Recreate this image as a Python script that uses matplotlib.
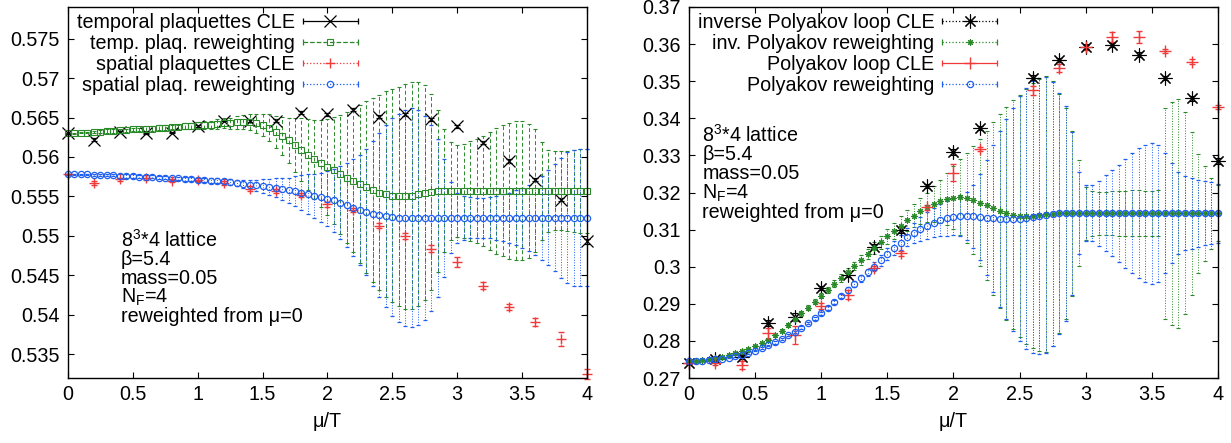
import numpy as np
import matplotlib
matplotlib.use('Agg')
import matplotlib.pyplot as plt
from matplotlib.lines import Line2D
from matplotlib.legend_handler import HandlerBase
from matplotlib.ticker import MultipleLocator, FormatStrFormatter

plt.rcParams['font.family'] = ['Liberation Sans', 'DejaVu Sans']
plt.rcParams['mathtext.fontset'] = 'custom'
plt.rcParams['mathtext.rm'] = 'Liberation Sans'
plt.rcParams['mathtext.it'] = 'Liberation Sans:italic'
plt.rcParams['font.size'] = 14.2

GREEN = '#2a8a2a'
BLUE = '#1f5ff0'
RED = '#f03a3a'

# ---- CLE points (left: plaquettes) ----
mu_cle_l = [0.0, 0.2, 0.4, 0.6, 0.8, 1.0, 1.2, 1.4, 1.6, 1.8, 2.0,
            2.2, 2.4, 2.6, 2.8, 3.0, 3.2, 3.4, 3.6, 3.8, 4.0]
temp_cle = [0.5630, 0.5622, 0.5632, 0.5630, 0.5631, 0.5639, 0.5646, 0.5646, 0.5646, 0.5656, 0.5654,
            0.5660, 0.5651, 0.5654, 0.5648, 0.5639, 0.5618, 0.5595, 0.5571, 0.5546, 0.5493]
temp_cle_err = [0.0001, 0.0002, 0.0001, 0.0001, 0.0001, 0.0001, 0.0001, 0.0002, 0.0002, 0.0002, 0.0002,
                0.0002, 0.0002, 0.0002, 0.0002, 0.0002, 0.0002, 0.0002, 0.0002, 0.0002, 0.0003]
spat_cle = [0.5578, 0.5567, 0.5572, 0.5574, 0.5570, 0.5571, 0.5567, 0.5560, 0.5557, 0.5552, 0.5540,
            0.5533, 0.5513, 0.5500, 0.5484, 0.5467, 0.5437, 0.5410, 0.5391, 0.5369, 0.5325]
spat_cle_err = [0.0001, 0.0003, 0.0002, 0.0003, 0.0002, 0.0002, 0.0002, 0.0003, 0.0003, 0.0003, 0.0003,
                0.0003, 0.0003, 0.0004, 0.0004, 0.0006, 0.0004, 0.0004, 0.0005, 0.0009, 0.0006]

# ---- CLE points (right: Polyakov loops), no run at 2.4 ----
mu_cle_r = [0.0, 0.2, 0.4, 0.6, 0.8, 1.0, 1.2, 1.4, 1.6, 1.8, 2.0,
            2.2, 2.6, 2.8, 3.0, 3.2, 3.4, 3.6, 3.8, 4.0]
invpol_cle = [0.2740, 0.2750, 0.2757, 0.2849, 0.2865, 0.2942, 0.2978, 0.3054, 0.3098, 0.3218, 0.3310,
              0.3374, 0.3509, 0.3557, 0.3593, 0.3598, 0.3571, 0.3508, 0.3454, 0.3286]
invpol_cle_err = [0.0003, 0.0004, 0.0005, 0.0008, 0.0010, 0.0006, 0.0006, 0.0006, 0.0006, 0.0006, 0.0008,
                  0.0006, 0.0007, 0.0006, 0.0006, 0.0006, 0.0007, 0.0006, 0.0007, 0.0008]
pol_cle = [0.2741, 0.2740, 0.2735, 0.2820, 0.2816, 0.2894, 0.2924, 0.2996, 0.3036, 0.3160, 0.3253,
           0.3317, 0.3476, 0.3535, 0.3591, 0.3620, 0.3619, 0.3582, 0.3553, 0.3430]
pol_cle_err = [0.0003, 0.0006, 0.0012, 0.0015, 0.0025, 0.0008, 0.0012, 0.0006, 0.0006, 0.0006, 0.0023,
               0.0005, 0.0012, 0.0011, 0.0006, 0.0013, 0.0015, 0.0006, 0.0006, 0.0005]

# ---- reweighting from mu=0, grid of 81 values in mu/T ----
mu_rw = np.linspace(0.0, 4.0, 81)

temp_rw = [0.5630, 0.5630, 0.5631, 0.5631, 0.5632, 0.5632, 0.5633, 0.5633, 0.5634, 0.5634,
           0.5635, 0.5635, 0.5636, 0.5636, 0.5637, 0.5637, 0.5638, 0.5638, 0.5639, 0.5639,
           0.5640, 0.5641, 0.5641, 0.5642, 0.5643, 0.5643, 0.5644, 0.5644, 0.5644, 0.5643,
           0.5641, 0.5637, 0.5632, 0.5627, 0.5621, 0.5615, 0.5609, 0.5603, 0.5597, 0.5592,
           0.5587, 0.5583, 0.5578, 0.5574, 0.5570, 0.5566, 0.5562, 0.5558, 0.5555, 0.5553,
           0.5551, 0.5550, 0.5550, 0.5551, 0.5553, 0.5555, 0.5556, 0.5557, 0.5557, 0.5557,
           0.5557, 0.5557, 0.5557, 0.5557, 0.5557, 0.5557, 0.5557, 0.5557, 0.5557, 0.5557,
           0.5557, 0.5557, 0.5557, 0.5557, 0.5557, 0.5557, 0.5557, 0.5557, 0.5557, 0.5557,
           0.5557]
temp_rw_err = [0.0001, 0.0001, 0.0001, 0.0001, 0.0001, 0.0002, 0.0002, 0.0002, 0.0002, 0.0002,
               0.0002, 0.0002, 0.0003, 0.0003, 0.0003, 0.0003, 0.0003, 0.0003, 0.0004, 0.0004,
               0.0004, 0.0005, 0.0005, 0.0006, 0.0006, 0.0007, 0.0008, 0.0009, 0.0010, 0.0012,
               0.0014, 0.0017, 0.0020, 0.0024, 0.0029, 0.0034, 0.0040, 0.0045, 0.0050, 0.0055,
               0.0061, 0.0068, 0.0075, 0.0083, 0.0091, 0.0100, 0.0109, 0.0117, 0.0124, 0.0130,
               0.0135, 0.0139, 0.0142, 0.0144, 0.0142, 0.0136, 0.0124, 0.0103, 0.0078, 0.0062,
               0.0058, 0.0060, 0.0063, 0.0066, 0.0070, 0.0075, 0.0080, 0.0083, 0.0086, 0.0088,
               0.0088, 0.0085, 0.0078, 0.0062, 0.0052, 0.0050, 0.0050, 0.0051, 0.0052, 0.0053,
               0.0053]
spat_rw = [0.5578, 0.5578, 0.5578, 0.5578, 0.5577, 0.5577, 0.5577, 0.5577, 0.5576, 0.5576,
           0.5576, 0.5575, 0.5575, 0.5575, 0.5574, 0.5574, 0.5573, 0.5573, 0.5572, 0.5572,
           0.5571, 0.5571, 0.5570, 0.5570, 0.5569, 0.5568, 0.5567, 0.5566, 0.5565, 0.5564,
           0.5563, 0.5562, 0.5561, 0.5560, 0.5558, 0.5557, 0.5555, 0.5553, 0.5551, 0.5549,
           0.5547, 0.5545, 0.5542, 0.5539, 0.5536, 0.5533, 0.5530, 0.5528, 0.5526, 0.5525,
           0.5524, 0.5523, 0.5523, 0.5523, 0.5523, 0.5523, 0.5523, 0.5523, 0.5523, 0.5523,
           0.5523, 0.5523, 0.5523, 0.5523, 0.5523, 0.5523, 0.5523, 0.5523, 0.5523, 0.5523,
           0.5523, 0.5523, 0.5523, 0.5523, 0.5523, 0.5523, 0.5523, 0.5523, 0.5523, 0.5523,
           0.5523]
spat_rw_err = [0.0001, 0.0001, 0.0001, 0.0001, 0.0001, 0.0001, 0.0001, 0.0001, 0.0002, 0.0002,
               0.0002, 0.0002, 0.0002, 0.0002, 0.0002, 0.0002, 0.0002, 0.0002, 0.0003, 0.0003,
               0.0003, 0.0003, 0.0003, 0.0003, 0.0003, 0.0004, 0.0004, 0.0005, 0.0006, 0.0007,
               0.0009, 0.0010, 0.0012, 0.0014, 0.0016, 0.0019, 0.0022, 0.0025, 0.0028, 0.0031,
               0.0035, 0.0040, 0.0046, 0.0053, 0.0061, 0.0070, 0.0080, 0.0092, 0.0104, 0.0115,
               0.0125, 0.0132, 0.0137, 0.0139, 0.0136, 0.0129, 0.0118, 0.0100, 0.0075, 0.0045,
               0.0032, 0.0028, 0.0026, 0.0025, 0.0025, 0.0026, 0.0028, 0.0030, 0.0032, 0.0035,
               0.0038, 0.0042, 0.0047, 0.0053, 0.0060, 0.0068, 0.0076, 0.0083, 0.0086, 0.0087,
               0.0087]

invpol_rw = [0.2746, 0.2747, 0.2748, 0.2750, 0.2753, 0.2757, 0.2762, 0.2767, 0.2773, 0.2779,
             0.2786, 0.2794, 0.2803, 0.2815, 0.2828, 0.2843, 0.2858, 0.2874, 0.2890, 0.2906,
             0.2922, 0.2938, 0.2954, 0.2970, 0.2986, 0.3002, 0.3018, 0.3034, 0.3050, 0.3066,
             0.3082, 0.3097, 0.3111, 0.3125, 0.3138, 0.3150, 0.3160, 0.3169, 0.3177, 0.3183,
             0.3186, 0.3187, 0.3185, 0.3180, 0.3173, 0.3165, 0.3157, 0.3150, 0.3144, 0.3140,
             0.3137, 0.3136, 0.3137, 0.3139, 0.3141, 0.3143, 0.3144, 0.3144, 0.3144, 0.3144,
             0.3144, 0.3144, 0.3144, 0.3144, 0.3144, 0.3144, 0.3144, 0.3144, 0.3144, 0.3144,
             0.3144, 0.3144, 0.3144, 0.3144, 0.3144, 0.3144, 0.3144, 0.3144, 0.3144, 0.3144,
             0.3144]
invpol_rw_err = [0.0001, 0.0001, 0.0001, 0.0002, 0.0002, 0.0002, 0.0002, 0.0003, 0.0003, 0.0003,
                 0.0003, 0.0004, 0.0004, 0.0004, 0.0005, 0.0005, 0.0005, 0.0006, 0.0006, 0.0007,
                 0.0007, 0.0008, 0.0009, 0.0010, 0.0011, 0.0012, 0.0013, 0.0014, 0.0016, 0.0018,
                 0.0020, 0.0022, 0.0025, 0.0028, 0.0031, 0.0035, 0.0040, 0.0048, 0.0058, 0.0070,
                 0.0085, 0.0102, 0.0122, 0.0145, 0.0170, 0.0200, 0.0232, 0.0262, 0.0287, 0.0308,
                 0.0327, 0.0343, 0.0357, 0.0367, 0.0372, 0.0358, 0.0322, 0.0285, 0.0222, 0.0143,
                 0.0072, 0.0060, 0.0058, 0.0058, 0.0059, 0.0060, 0.0061, 0.0062, 0.0062, 0.0061,
                 0.0060, 0.0062, 0.0285, 0.0300, 0.0308, 0.0272, 0.0220, 0.0160, 0.0128, 0.0095,
                 0.0075]
pol_rw = [0.2746, 0.2746, 0.2747, 0.2748, 0.2750, 0.2752, 0.2755, 0.2759, 0.2763, 0.2768,
          0.2774, 0.2781, 0.2788, 0.2796, 0.2805, 0.2815, 0.2825, 0.2836, 0.2848, 0.2861,
          0.2874, 0.2889, 0.2905, 0.2921, 0.2937, 0.2953, 0.2969, 0.2985, 0.3000, 0.3017,
          0.3034, 0.3050, 0.3065, 0.3079, 0.3091, 0.3102, 0.3111, 0.3119, 0.3126, 0.3131,
          0.3135, 0.3137, 0.3137, 0.3136, 0.3134, 0.3132, 0.3130, 0.3129, 0.3128, 0.3128,
          0.3129, 0.3131, 0.3134, 0.3137, 0.3140, 0.3142, 0.3144, 0.3144, 0.3144, 0.3144,
          0.3144, 0.3144, 0.3144, 0.3144, 0.3144, 0.3144, 0.3144, 0.3144, 0.3144, 0.3144,
          0.3144, 0.3144, 0.3144, 0.3144, 0.3144, 0.3144, 0.3144, 0.3144, 0.3144, 0.3144,
          0.3144]
pol_rw_err = [0.0001, 0.0001, 0.0001, 0.0001, 0.0001, 0.0002, 0.0002, 0.0002, 0.0002, 0.0002,
              0.0002, 0.0002, 0.0002, 0.0003, 0.0003, 0.0003, 0.0003, 0.0003, 0.0003, 0.0004,
              0.0004, 0.0005, 0.0005, 0.0006, 0.0007, 0.0008, 0.0009, 0.0010, 0.0012, 0.0014,
              0.0016, 0.0018, 0.0020, 0.0024, 0.0028, 0.0032, 0.0036, 0.0040, 0.0044, 0.0047,
              0.0050, 0.0055, 0.0064, 0.0085, 0.0115, 0.0155, 0.0198, 0.0238, 0.0270, 0.0300,
              0.0330, 0.0352, 0.0366, 0.0372, 0.0372, 0.0355, 0.0325, 0.0290, 0.0220, 0.0110,
              0.0075, 0.0075, 0.0088, 0.0102, 0.0116, 0.0130, 0.0147, 0.0162, 0.0175, 0.0185,
              0.0190, 0.0185, 0.0162, 0.0135, 0.0110, 0.0100, 0.0095, 0.0090, 0.0086, 0.0083,
              0.0080]

info_lines = ['8$^3$*4 lattice', 'β=5.4', 'mass=0.05', 'N$_\\mathrm{F}$=4', 'reweighted from μ=0']

ASTER = (8, 2, 0)


class GnuplotKey(HandlerBase):
    # gnuplot style key sample: bar with end caps and the point in the middle
    def create_artists(self, legend, orig, xdescent, ydescent, width, height, fontsize, trans):
        x0, x1 = -xdescent, -xdescent + width
        yc = (height - ydescent) / 2
        c = orig.get_color()
        bar = Line2D([x0, x1], [yc, yc], color=c, ls=orig.get_linestyle(), lw=0.9)
        caps = Line2D([x0, x1], [yc, yc], ls='none', marker='|', ms=5, mew=0.9, color=c)
        mark = Line2D([(x0 + x1) / 2], [yc], ls='none', marker=orig.get_marker(),
                      ms=orig.get_markersize(), mfc=orig.get_markerfacecolor(),
                      mec=c, mew=orig.get_markeredgewidth())
        for a in (bar, caps, mark):
            a.set_transform(trans)
        return [bar, caps, mark]


def plot_set(ax, x, y, e, color, marker, ms, ls, key_ls, mew, elw, caps):
    eb = ax.errorbar(x, y, yerr=e, fmt='', marker=marker, linestyle='none', color=color, ms=ms,
                     mfc='none', mec=color, mew=mew, elinewidth=elw, capsize=caps,
                     capthick=elw, clip_on=False)
    eb[2][0].set_linestyle(ls)
    return Line2D([], [], color=color, marker=marker, ms=ms, mfc='none', mew=mew, ls=key_ls)


def style_axes(ax, ylo, yhi, ystep):
    ax.set_xlim(0, 4)
    ax.set_ylim(ylo, yhi)
    ax.xaxis.set_major_locator(MultipleLocator(0.5))
    ax.yaxis.set_major_locator(MultipleLocator(ystep))
    ax.xaxis.set_major_formatter(FormatStrFormatter('%g'))
    ax.yaxis.set_major_formatter(FormatStrFormatter('%g'))
    ax.tick_params(direction='in', top=True, right=True, length=4.5, width=0.8,
                   labelsize=14.2, pad=6)
    ax.tick_params(axis='x', pad=5)
    for s in ax.spines.values():
        s.set_linewidth(1.0)
    ax.set_xlabel('μ/T', fontsize=14.2, labelpad=6)


def add_key(ax, handles, labels, right):
    ax.legend(handles, labels, handler_map={Line2D: GnuplotKey()}, loc='upper right',
              bbox_to_anchor=(right, 1.0), frameon=False, markerfirst=False,
              handlelength=2.8, handletextpad=0.4, labelspacing=0.1,
              borderaxespad=0.0, borderpad=0.3, fontsize=14.2)


fig = plt.figure(figsize=(12.31, 4.43), dpi=100)
axl = fig.add_axes([0.0552, 0.1467, 0.4216, 0.8375])
axr = fig.add_axes([0.5597, 0.1467, 0.4297, 0.8375])

# left panel: plaquettes
h1 = plot_set(axl, mu_cle_l, temp_cle, temp_cle_err, 'black', 'x', 9, '-', '-', 0.9, 0.9, 2.5)
h2 = plot_set(axl, mu_rw, temp_rw, temp_rw_err, GREEN, 's', 4, (0, (4, 2.5)), '--', 0.8, 0.7, 1.6)
h3 = plot_set(axl, mu_cle_l, spat_cle, spat_cle_err, RED, '+', 7.5, ':', ':', 1.0, 0.9, 2.5)
h4 = plot_set(axl, mu_rw, spat_rw, spat_rw_err, BLUE, 'o', 4.5, ':', ':', 0.9, 0.7, 1.6)
style_axes(axl, 0.532, 0.579, 0.005)
add_key(axl, [h1, h2, h3, h4],
        ['temporal plaquettes CLE', 'temp. plaq. reweighting',
         'spatial plaquettes CLE', 'spatial plaq. reweighting'], 0.57)
for i, line in enumerate(info_lines):
    axl.text(0.102, 0.372 - i * 0.0515, line, transform=axl.transAxes, va='center', ha='left',
             fontsize=14.2)

# right panel: Polyakov loops
g1 = plot_set(axr, mu_cle_r, invpol_cle, invpol_cle_err, 'black', ASTER, 10, ':', ':', 0.8, 0.9, 2.5)
g2 = plot_set(axr, mu_rw, invpol_rw, invpol_rw_err, GREEN, ASTER, 4.5, ':', ':', 0.8, 0.7, 1.6)
g3 = plot_set(axr, mu_cle_r, pol_cle, pol_cle_err, RED, '+', 8, '-', '-', 1.0, 0.9, 2.5)
g4 = plot_set(axr, mu_rw, pol_rw, pol_rw_err, BLUE, 'o', 4.5, ':', ':', 0.9, 0.7, 1.6)
style_axes(axr, 0.27, 0.37, 0.01)
add_key(axr, [g1, g2, g3, g4],
        ['inverse Polyakov loop CLE', 'inv. Polyakov reweighting',
         'Polyakov loop CLE', 'Polyakov reweighting'], 0.594)
for i, line in enumerate(info_lines):
    axr.text(0.025, 0.655 - i * 0.0525, line, transform=axr.transAxes, va='center', ha='left',
             fontsize=14.2)

fig.savefig('out.png', dpi=100)
